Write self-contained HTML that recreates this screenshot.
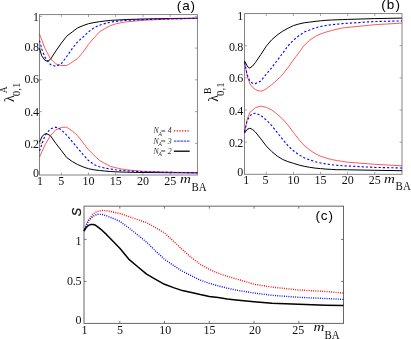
<!DOCTYPE html>
<html><head><meta charset="utf-8"><title>figure</title>
<style>
html,body{margin:0;padding:0;background:#fff;}
body{width:411px;height:339px;overflow:hidden;font-family:"Liberation Sans",sans-serif;}
svg{display:block;will-change:transform;}
</style></head><body>
<svg width="411" height="339" viewBox="0 0 411 339">
<rect width="411" height="339" fill="#fff"/>
<rect x="39.5" y="14.6" width="157.90" height="160.40" fill="none" stroke="#777" stroke-width="0.9"/><path d="M61.3 14.6v2.5M61.3 175.0v-2.5M88.5 14.6v2.5M88.5 175.0v-2.5M115.7 14.6v2.5M115.7 175.0v-2.5M143.0 14.6v2.5M143.0 175.0v-2.5M170.2 14.6v2.5M170.2 175.0v-2.5M39.5 143.3h2.5M197.4 143.3h-2.5M39.5 111.6h2.5M197.4 111.6h-2.5M39.5 79.8h2.5M197.4 79.8h-2.5M39.5 48.1h2.5M197.4 48.1h-2.5M39.5 16.4h2.5M197.4 16.4h-2.5" stroke="#777" stroke-width="0.65" fill="none"/>
<rect x="244.5" y="13.6" width="157.50" height="160.70" fill="none" stroke="#777" stroke-width="0.9"/><path d="M266.2 13.6v2.5M266.2 174.3v-2.5M293.4 13.6v2.5M293.4 174.3v-2.5M320.5 13.6v2.5M320.5 174.3v-2.5M347.7 13.6v2.5M347.7 174.3v-2.5M374.8 13.6v2.5M374.8 174.3v-2.5M244.5 142.2h2.5M402.0 142.2h-2.5M244.5 110.0h2.5M402.0 110.0h-2.5M244.5 77.9h2.5M402.0 77.9h-2.5M244.5 45.7h2.5M402.0 45.7h-2.5" stroke="#777" stroke-width="0.65" fill="none"/>
<rect x="84.0" y="206.15" width="259.50" height="117.25" fill="none" stroke="#666" stroke-width="1.0"/><path d="M119.8 206.15v2.5M119.8 323.4v-2.5M164.5 206.15v2.5M164.5 323.4v-2.5M209.3 206.15v2.5M209.3 323.4v-2.5M254.0 206.15v2.5M254.0 323.4v-2.5M298.8 206.15v2.5M298.8 323.4v-2.5M84.0 281.4h2.5M343.5 281.4h-2.5M84.0 239.4h2.5M343.5 239.4h-2.5" stroke="#666" stroke-width="0.9" fill="none"/>
<polyline points="39.5,48.3 41.7,55.8 44.9,60.2 47.7,61.4 50.4,59.4 55.8,51.1 61.3,43.2 66.7,36.2 72.2,32.0 77.6,27.9 83.1,25.6 88.5,23.7 93.9,22.6 99.4,21.7 104.8,21.0 110.3,20.4 115.7,20.1 121.2,19.8 126.6,19.5 143.0,19.0 170.2,18.5 197.4,18.2" stroke="#000" stroke-width="1.0" fill="none" stroke-linejoin="round"/>
<polyline points="39.5,34.0 44.9,48.2 50.4,58.8 55.8,63.9 61.3,65.5 66.7,65.5 72.2,62.2 77.6,58.4 83.1,52.0 88.5,44.3 93.9,38.0 99.4,31.9 104.8,28.7 110.3,25.7 115.7,23.9 121.2,22.7 126.6,21.8 143.0,20.3 170.2,19.0 197.4,18.4" stroke="#ff0000" stroke-width="0.65" fill="none"/>
<polyline points="39.5,40.6 42.2,50.2 44.9,57.2 50.4,64.6 55.8,66.4 61.3,63.6 66.7,56.5 72.2,48.6 77.6,41.8 83.1,37.0 88.5,31.9 93.9,27.8 99.4,25.2 104.8,23.6 110.3,22.2 115.7,21.4 121.2,20.8 126.6,20.4 143.0,19.6 170.2,18.8 197.4,18.3" stroke="#0000ff" stroke-width="1.1" stroke-dasharray="2.2 2.05" fill="none"/>
<polyline points="39.5,142.2 42.2,136.2 44.9,134.0 46.6,133.6 50.4,135.7 55.8,143.4 61.3,150.4 66.7,157.5 72.2,161.5 77.6,164.5 83.1,166.9 88.5,168.7 93.9,169.8 99.4,170.5 104.8,171.0 110.3,171.5 115.7,171.8 126.6,172.2 143.0,172.5 197.4,172.9" stroke="#000" stroke-width="1.0" fill="none" stroke-linejoin="round"/>
<polyline points="39.5,157.0 44.9,145.1 50.4,135.7 55.8,129.8 61.3,127.4 66.7,127.2 72.2,131.0 77.6,135.7 83.1,142.8 88.5,149.8 93.9,155.1 99.4,160.4 104.8,163.4 110.3,166.3 115.7,167.7 121.2,168.9 126.6,169.8 143.0,171.3 170.2,172.2 197.4,172.6" stroke="#ff0000" stroke-width="0.65" fill="none"/>
<polyline points="39.5,151.0 44.9,135.7 50.4,128.8 55.8,127.2 61.3,129.8 66.7,135.1 72.2,141.6 77.6,148.1 83.1,154.6 88.5,160.5 93.9,164.5 99.4,166.7 104.8,168.1 110.3,169.0 115.7,169.8 121.2,170.4 126.6,170.8 143.0,171.8 170.2,172.4 197.4,172.7" stroke="#0000ff" stroke-width="1.1" stroke-dasharray="2.2 2.05" fill="none"/>
<polyline points="244.5,61.2 247.2,76.0 249.9,83.8 252.6,87.4 255.4,89.5 258.1,90.8 260.8,91.1 263.5,90.4 266.2,88.9 271.7,84.7 277.1,80.0 282.5,74.7 287.9,67.7 293.4,60.0 298.8,52.8 304.2,45.4 309.7,40.2 315.1,36.5 320.5,34.0 326.0,32.1 331.4,30.6 336.8,29.2 342.3,28.0 347.7,27.4 374.8,24.7 402.0,23.1" stroke="#ff0000" stroke-width="0.65" fill="none"/>
<polyline points="244.5,62.4 247.2,75.0 249.9,81.3 252.6,83.3 255.4,83.6 260.8,80.9 266.2,74.2 271.7,67.7 277.1,60.6 282.5,53.5 287.9,46.0 293.4,40.2 298.8,35.8 304.2,32.1 309.7,29.9 315.1,28.0 320.5,26.5 326.0,25.5 331.4,24.7 336.8,24.2 342.3,23.6 347.7,23.3 374.8,21.5 402.0,20.9" stroke="#0000ff" stroke-width="1.1" stroke-dasharray="2.2 2.05" fill="none"/>
<polyline points="244.5,61.0 247.2,66.0 248.8,67.8 249.9,68.0 252.6,66.0 255.4,62.5 260.8,54.6 266.2,46.3 271.7,39.8 277.1,35.1 282.5,31.3 287.9,28.3 293.4,25.6 298.8,24.0 304.2,22.8 309.7,22.1 315.1,21.4 320.5,20.8 326.0,20.3 331.4,20.0 342.3,19.6 347.7,19.4 374.8,18.6 402.0,18.1" stroke="#000" stroke-width="1.0" fill="none" stroke-linejoin="round"/>
<polyline points="244.5,133.0 247.2,119.0 249.9,112.4 255.4,107.7 260.8,106.1 266.2,107.3 271.7,110.0 277.1,114.2 282.5,118.9 287.9,124.9 293.4,132.4 298.8,139.4 304.2,145.5 309.7,149.9 315.1,153.6 320.5,156.3 326.0,158.0 331.4,159.5 336.8,160.5 342.3,161.4 347.7,162.2 374.8,164.3 402.0,165.8" stroke="#ff0000" stroke-width="0.65" fill="none"/>
<polyline points="244.5,131.8 247.2,120.5 249.9,115.9 252.6,113.6 255.4,113.2 260.8,115.3 266.2,120.0 271.7,125.5 277.1,132.3 282.5,139.2 287.9,145.6 293.4,150.8 298.8,154.7 304.2,157.7 309.7,159.9 315.1,161.7 320.5,163.0 326.0,163.9 331.4,164.7 336.8,165.3 342.3,165.7 347.7,166.0 374.8,167.4 402.0,168.0" stroke="#0000ff" stroke-width="1.1" stroke-dasharray="2.2 2.05" fill="none"/>
<polyline points="244.5,133.1 247.2,129.3 249.9,128.2 252.6,129.5 255.4,132.0 260.8,138.8 266.2,145.9 271.7,151.5 277.1,156.0 282.5,159.4 287.9,161.6 293.4,163.3 298.8,165.0 304.2,166.3 309.7,167.3 315.1,168.1 320.5,168.6 326.0,169.1 331.4,169.4 336.8,169.7 342.3,169.7 347.7,169.8 374.8,170.3 402.0,170.7" stroke="#000" stroke-width="1.0" fill="none" stroke-linejoin="round"/>
<polyline points="84.0,231.0 86.2,225.0 88.5,220.0 92.9,214.0 97.4,211.3 101.9,210.5 106.4,210.7 110.8,211.5 119.8,213.5 128.7,216.5 137.7,219.7 146.6,222.6 155.6,227.7 164.5,232.9 173.5,241.2 182.4,249.7 191.4,257.5 200.3,264.3 209.3,269.3 218.2,273.3 227.2,276.3 236.1,278.8 254.0,284.2 271.9,287.1 298.8,290.0 325.6,291.5 343.5,293.0" stroke="#ff0000" stroke-width="1.4" stroke-dasharray="0.95 1.3" fill="none"/>
<polyline points="84.0,231.0 86.2,225.5 88.5,221.0 92.9,216.3 97.4,214.3 101.9,214.4 106.4,215.7 110.8,217.5 119.8,221.3 128.7,227.8 137.7,234.9 146.6,242.2 155.6,251.0 164.5,259.3 173.5,265.5 182.4,271.2 191.4,275.8 200.3,280.1 209.3,283.3 218.2,285.9 227.2,288.1 236.1,290.1 254.0,293.0 271.9,295.3 298.8,297.3 325.6,298.5 343.5,299.4" stroke="#0000ff" stroke-width="1.4" stroke-dasharray="0.95 1.3" fill="none"/>
<polyline points="84.0,231.0 86.2,227.5 88.5,225.4 90.7,224.6 92.9,224.5 95.2,225.1 97.4,226.6 101.9,230.2 106.4,234.4 110.8,239.0 119.8,248.3 128.7,259.1 137.7,266.8 146.6,274.2 155.6,279.3 164.5,284.3 173.5,287.6 182.4,290.6 191.4,292.6 200.3,294.6 209.3,296.4 218.2,297.6 227.2,298.9 236.1,299.9 254.0,301.7 271.9,303.2 298.8,304.3 325.6,305.2 343.5,305.5" stroke="#000" stroke-width="1.5" fill="none" stroke-linejoin="round"/>
<text x="40.1" y="184.8" font-size="12" text-anchor="middle" font-family="'Liberation Serif', serif" fill="#111"  >1</text>
<text x="246.3" y="184.4" font-size="12" text-anchor="middle" font-family="'Liberation Serif', serif" fill="#111"  >1</text>
<text x="84.6" y="334.3" font-size="12" text-anchor="middle" font-family="'Liberation Serif', serif" fill="#111"  >1</text>
<text x="61.3" y="184.8" font-size="12" text-anchor="middle" font-family="'Liberation Serif', serif" fill="#111"  >5</text>
<text x="265.5" y="184.4" font-size="12" text-anchor="middle" font-family="'Liberation Serif', serif" fill="#111"  >5</text>
<text x="119.9" y="334.3" font-size="12" text-anchor="middle" font-family="'Liberation Serif', serif" fill="#111"  >5</text>
<text x="88.5" y="184.8" font-size="12" text-anchor="middle" font-family="'Liberation Serif', serif" fill="#111"  >10</text>
<text x="293.4" y="184.4" font-size="12" text-anchor="middle" font-family="'Liberation Serif', serif" fill="#111"  >10</text>
<text x="165.2" y="334.3" font-size="12" text-anchor="middle" font-family="'Liberation Serif', serif" fill="#111"  >10</text>
<text x="115.7" y="184.8" font-size="12" text-anchor="middle" font-family="'Liberation Serif', serif" fill="#111"  >15</text>
<text x="320.5" y="184.4" font-size="12" text-anchor="middle" font-family="'Liberation Serif', serif" fill="#111"  >15</text>
<text x="209.4" y="334.3" font-size="12" text-anchor="middle" font-family="'Liberation Serif', serif" fill="#111"  >15</text>
<text x="143.0" y="184.8" font-size="12" text-anchor="middle" font-family="'Liberation Serif', serif" fill="#111"  >20</text>
<text x="347.7" y="184.4" font-size="12" text-anchor="middle" font-family="'Liberation Serif', serif" fill="#111"  >20</text>
<text x="255.0" y="334.3" font-size="12" text-anchor="middle" font-family="'Liberation Serif', serif" fill="#111"  >20</text>
<text x="170.2" y="184.8" font-size="12" text-anchor="middle" font-family="'Liberation Serif', serif" fill="#111"  >25</text>
<text x="374.8" y="184.4" font-size="12" text-anchor="middle" font-family="'Liberation Serif', serif" fill="#111"  >25</text>
<text x="298.2" y="334.3" font-size="12" text-anchor="middle" font-family="'Liberation Serif', serif" fill="#111"  >25</text>
<text x="38.6" y="176.7" font-size="12" text-anchor="end" font-family="'Liberation Serif', serif" fill="#111"  letter-spacing="-0.3">0</text>
<text x="38.6" y="147.5" font-size="12" text-anchor="end" font-family="'Liberation Serif', serif" fill="#111"  letter-spacing="-0.3">0.2</text>
<text x="38.6" y="115.5" font-size="12" text-anchor="end" font-family="'Liberation Serif', serif" fill="#111"  letter-spacing="-0.3">0.4</text>
<text x="38.6" y="83.1" font-size="12" text-anchor="end" font-family="'Liberation Serif', serif" fill="#111"  letter-spacing="-0.3">0.6</text>
<text x="38.6" y="51.1" font-size="12" text-anchor="end" font-family="'Liberation Serif', serif" fill="#111"  letter-spacing="-0.3">0.8</text>
<text x="38.6" y="20.6" font-size="12" text-anchor="end" font-family="'Liberation Serif', serif" fill="#111"  letter-spacing="-0.3">1</text>
<text x="243.0" y="175.9" font-size="12" text-anchor="end" font-family="'Liberation Serif', serif" fill="#111"  letter-spacing="-0.3">0</text>
<text x="243.0" y="146.8" font-size="12" text-anchor="end" font-family="'Liberation Serif', serif" fill="#111"  letter-spacing="-0.3">0.2</text>
<text x="243.0" y="114.9" font-size="12" text-anchor="end" font-family="'Liberation Serif', serif" fill="#111"  letter-spacing="-0.3">0.4</text>
<text x="243.0" y="82.4" font-size="12" text-anchor="end" font-family="'Liberation Serif', serif" fill="#111"  letter-spacing="-0.3">0.6</text>
<text x="243.0" y="50.7" font-size="12" text-anchor="end" font-family="'Liberation Serif', serif" fill="#111"  letter-spacing="-0.3">0.8</text>
<text x="243.0" y="19.6" font-size="12" text-anchor="end" font-family="'Liberation Serif', serif" fill="#111"  letter-spacing="-0.3">1</text>
<text x="81.2" y="324.1" font-size="12" text-anchor="end" font-family="'Liberation Serif', serif" fill="#111"  letter-spacing="-0.3">0</text>
<text x="81.2" y="285.2" font-size="12" text-anchor="end" font-family="'Liberation Serif', serif" fill="#111"  letter-spacing="-0.3">0.5</text>
<text x="81.2" y="244.8" font-size="12" text-anchor="end" font-family="'Liberation Serif', serif" fill="#111"  letter-spacing="-0.3">1</text>
<text x="176.8" y="9.7" font-size="13.5" letter-spacing="0.9" font-family="'Liberation Sans', sans-serif" fill="#000">(a)</text>
<text x="381.2" y="9.2" font-size="13.5" letter-spacing="1.1" font-family="'Liberation Sans', sans-serif" fill="#000">(b)</text>
<text x="315.4" y="219.7" font-size="13.5" letter-spacing="0.9" font-family="'Liberation Sans', sans-serif" fill="#000">(c)</text>
<text transform="translate(180.0,183.4) scale(1.2,1)" font-size="12.6" font-family="'Liberation Serif', serif" font-style="italic" fill="#111">m</text>
<text transform="translate(191.5,191.0) scale(0.91,1)" font-size="12" font-family="'Liberation Serif', serif" fill="#111">BA</text>
<text transform="translate(384.1,182.7) scale(1.2,1)" font-size="12.6" font-family="'Liberation Serif', serif" font-style="italic" fill="#111">m</text>
<text transform="translate(395.6,190.3) scale(0.91,1)" font-size="12" font-family="'Liberation Serif', serif" fill="#111">BA</text>
<text transform="translate(313.5,331.3) scale(1.2,1)" font-size="12.6" font-family="'Liberation Serif', serif" font-style="italic" fill="#111">m</text>
<text transform="translate(324.4,338.9) scale(0.91,1)" font-size="12" font-family="'Liberation Serif', serif" fill="#111">BA</text>
<g transform="translate(13.8,102.0) rotate(-90)"><text x="0" y="0" font-size="14" font-family="'Liberation Serif', serif" fill="#111">λ</text><text x="5.8" y="6.2" font-size="11" font-family="'Liberation Serif', serif" fill="#111">0,1</text><text x="8.7" y="-6.5" font-size="9.7" font-family="'Liberation Serif', serif" fill="#111">A</text></g>
<g transform="translate(217.7,101.8) rotate(-90)"><text x="0" y="0" font-size="14" font-family="'Liberation Serif', serif" fill="#111">λ</text><text x="5.8" y="6.2" font-size="11" font-family="'Liberation Serif', serif" fill="#111">0,1</text><text x="7.9" y="-6.5" font-size="9.7" font-family="'Liberation Serif', serif" fill="#111">B</text></g>
<text transform="translate(80.6,212.1) rotate(-90)" font-size="12.5" font-style="italic" font-family="'Liberation Sans', sans-serif" fill="#111" stroke="#111" stroke-width="0.25" text-anchor="middle">S</text>
<text x="153.5" y="133.3" font-size="7.8" font-family="'Liberation Serif', serif" font-style="italic" fill="#333">N</text>
<text x="158.2" y="135.8" font-size="6" font-family="'Liberation Serif', serif" font-style="italic" fill="#333">A</text>
<text x="160.2" y="133.5" font-size="8.6" font-family="'Liberation Serif', serif" font-style="italic" fill="#333">=</text>
<text x="167.7" y="133.3" font-size="7.8" font-family="'Liberation Serif', serif" font-style="italic" fill="#333">4</text>
<line x1="173.9" x2="189.7" y1="130.8" y2="130.8" stroke="#ff0000" stroke-width="1.3" stroke-dasharray="1.3 1.4"/>
<text x="153.5" y="143.6" font-size="7.8" font-family="'Liberation Serif', serif" font-style="italic" fill="#333">N</text>
<text x="158.2" y="146.1" font-size="6" font-family="'Liberation Serif', serif" font-style="italic" fill="#333">A</text>
<text x="160.2" y="143.79999999999998" font-size="8.6" font-family="'Liberation Serif', serif" font-style="italic" fill="#333">=</text>
<text x="167.7" y="143.6" font-size="7.8" font-family="'Liberation Serif', serif" font-style="italic" fill="#333">3</text>
<line x1="173.9" x2="189.7" y1="141.1" y2="141.1" stroke="#0000ff" stroke-width="0.85" stroke-dasharray="2.6 0.65"/>
<text x="153.5" y="153.7" font-size="7.8" font-family="'Liberation Serif', serif" font-style="italic" fill="#333">N</text>
<text x="158.2" y="156.2" font-size="6" font-family="'Liberation Serif', serif" font-style="italic" fill="#333">A</text>
<text x="160.2" y="153.89999999999998" font-size="8.6" font-family="'Liberation Serif', serif" font-style="italic" fill="#333">=</text>
<text x="167.7" y="153.7" font-size="7.8" font-family="'Liberation Serif', serif" font-style="italic" fill="#333">2</text>
<line x1="173.9" x2="189.7" y1="151.2" y2="151.2" stroke="#000" stroke-width="1.3"/>
</svg>
</body></html>
